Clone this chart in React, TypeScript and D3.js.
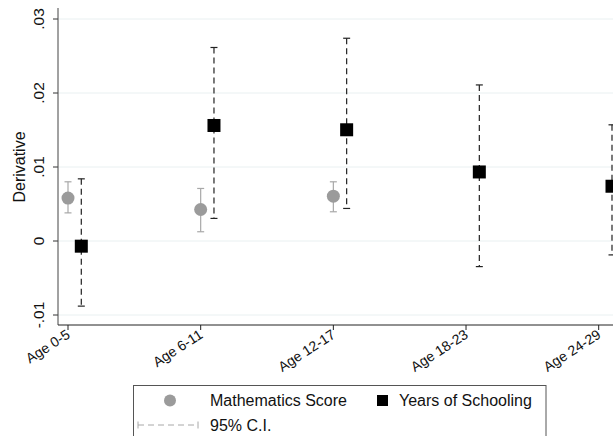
import React from "react";
import * as d3 from "d3";

const categories = ["Age 0-5", "Age 6-11", "Age 12-17", "Age 18-23", "Age 24-29"];
const mathCats = ["Age 0-5", "Age 6-11", "Age 12-17"];
const mathValue = [0.0058, 0.00426, 0.00606];
const mathLow = [0.0038, 0.00125, 0.00395];
const mathHigh = [0.0080, 0.0071, 0.0080];
const schoolValue = [-0.0007, 0.01561, 0.01503, 0.00933, 0.0074];
const schoolLow = [-0.0088, 0.00305, 0.0044, -0.00346, -0.00188];
const schoolHigh = [0.0084, 0.02615, 0.0274, 0.02109, 0.0157];
const yTicks = [-0.01, 0, 0.01, 0.02, 0.03];
const yTickLabels = ["-.01", "0", ".01", ".02", ".03"];

export default function App() {
  const W = 613, H = 436;
  const x0 = 58, yAxisBottom = 325, yAxisTop = 8;
  const y = d3.scaleLinear().domain([-0.01, 0.03]).range([315, 19]);
  const x = d3.scalePoint<string>().domain(categories).range([68, 598.7]);
  const off = 13.3;
  const font = "Arial, 'Liberation Sans', sans-serif";
  const cap = 3.5;
  const mathCol = "#9b9b9b";
  const mathCI = "#a8a8a8";
  return (
    <svg width={W} height={H} style={{ position: "absolute", left: 0, top: 0, background: "#fff" }} fontFamily={font}>
      <rect x={0} y={0} width={W} height={H} fill="#fff" />
      {yTicks.map((t, i) => (
        <g key={"g" + i}>
          <line x1={x0} x2={W} y1={y(t)} y2={y(t)} stroke="#e9f0f1" strokeWidth={1} />
          <line x1={x0 - 5} x2={x0} y1={y(t)} y2={y(t)} stroke="#333" strokeWidth={1} />
          <text transform={`translate(${44},${y(t)}) rotate(-90)`} textAnchor="middle" fontSize={15.5} fill="#111">
            {yTickLabels[i]}
          </text>
        </g>
      ))}
      <text transform={`translate(${25},${167}) rotate(-90)`} textAnchor="middle" fontSize={16} fill="#111">
        Derivative
      </text>
      <line x1={x0} x2={x0} y1={yAxisTop} y2={yAxisBottom} stroke="#444" strokeWidth={1} />
      <line x1={x0} x2={W} y1={yAxisBottom} y2={yAxisBottom} stroke="#222" strokeWidth={1} />
      {categories.map((c) => (
        <g key={c}>
          <line x1={x(c)!} x2={x(c)!} y1={yAxisBottom} y2={yAxisBottom + 5} stroke="#222" />
          <text transform={`translate(${x(c)! + 3},${yAxisBottom + 12}) rotate(-33)`} textAnchor="end" fontSize={14} fill="#111">
            {c}
          </text>
        </g>
      ))}
      {mathCats.map((c, i) => {
        const cx = x(c)!;
        return (
          <g key={"m" + c}>
            <line x1={cx} x2={cx} y1={y(mathLow[i])} y2={y(mathHigh[i])} stroke={mathCI} strokeWidth={1.2} />
            <line x1={cx - cap} x2={cx + cap} y1={y(mathLow[i])} y2={y(mathLow[i])} stroke={mathCI} strokeWidth={1.2} />
            <line x1={cx - cap} x2={cx + cap} y1={y(mathHigh[i])} y2={y(mathHigh[i])} stroke={mathCI} strokeWidth={1.2} />
            <circle cx={cx} cy={y(mathValue[i])} r={6.5} fill={mathCol} />
          </g>
        );
      })}
      {categories.map((c, i) => {
        const cx = x(c)! + off;
        return (
          <g key={"s" + c}>
            <line x1={cx} x2={cx} y1={y(schoolHigh[i])} y2={y(schoolLow[i])} stroke="#222" strokeWidth={1.2} strokeDasharray="6,4" />
            <line x1={cx - cap} x2={cx + cap} y1={y(schoolLow[i])} y2={y(schoolLow[i])} stroke="#222" strokeWidth={1.2} />
            <line x1={cx - cap} x2={cx + cap} y1={y(schoolHigh[i])} y2={y(schoolHigh[i])} stroke="#222" strokeWidth={1.2} />
            <rect x={cx - 6.5} y={y(schoolValue[i]) - 6.5} width={13} height={13} fill="#000" />
          </g>
        );
      })}
      <rect x={133.5} y={385.5} width={412.5} height={60} fill="#fff" stroke="#555" strokeWidth={1} />
      <circle cx={170} cy={400.5} r={6} fill={mathCol} />
      <text x={210} y={406} fontSize={16} fill="#111">Mathematics Score</text>
      <rect x={377} y={395} width={11} height={11} fill="#000" />
      <text x={399} y={406} fontSize={16} fill="#111">Years of Schooling</text>
      <line x1={138} x2={198} y1={425} y2={425} stroke={mathCI} strokeWidth={1} strokeDasharray="6,4" />
      <line x1={138} x2={138} y1={421.5} y2={428.5} stroke={mathCI} strokeWidth={1} />
      <line x1={198} x2={198} y1={421.5} y2={428.5} stroke={mathCI} strokeWidth={1} />
      <text x={210} y={431} fontSize={16} fill="#111">95% C.I.</text>
    </svg>
  );
}
